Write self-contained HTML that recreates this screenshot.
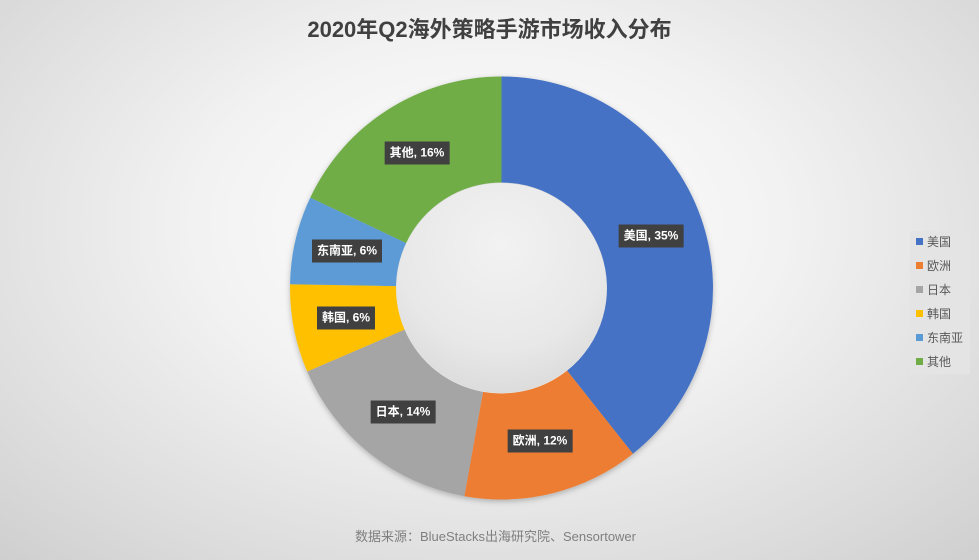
<!DOCTYPE html>
<html><head><meta charset="utf-8"><style>
html,body{margin:0;padding:0}
body{width:979px;height:560px;overflow:hidden;position:relative;font-family:"Liberation Sans","Noto Sans CJK SC",sans-serif;
background:radial-gradient(ellipse 75% 85% at 50% 40%,#ffffff 0%,#f2f2f2 40%,#dadada 80%,#cdcdcd 100%)}
.t{position:absolute;left:0;width:979px;top:12px;text-align:center;font-size:22px;font-weight:bold;color:#404040}
.f{position:absolute;left:6px;width:979px;top:526px;text-align:center;font-size:13px;color:#7f7f7f}
.lb{position:absolute;background:#404040;color:#fff;font-size:12px;font-weight:bold;height:23px;line-height:23px;padding:0 5px;transform:translate(-50%,-50%);white-space:nowrap}
.lg{position:absolute;left:910px;top:231px;width:60px;height:143px;background:#e4e4e4}
.li{position:absolute;left:6px;font-size:12px;color:#595959;height:14px;line-height:14px}
.li i{display:inline-block;width:7px;height:7px;margin-right:4px;vertical-align:1px}
</style></head><body>
<div class="t">2020年Q2海外策略手游市场收入分布</div>
<svg id="s" width="979" height="560" style="position:absolute;left:0;top:0">
<defs><filter id="sh" x="-20%" y="-20%" width="140%" height="140%"><feDropShadow dx="0" dy="2" stdDeviation="3" flood-color="#000" flood-opacity="0.25"/></filter>
<radialGradient id="hg" cx="50%" cy="30%" r="70%"><stop offset="0" stop-color="#f2f2f2"/><stop offset="0.7" stop-color="#e8e8e8"/><stop offset="1" stop-color="#dcdcdc"/></radialGradient></defs>
<g id="g" filter="url(#sh)"></g>
<circle cx="501.5" cy="288" r="105" fill="url(#hg)"/>
</svg>
<div class="lb" style="left:651px;top:236px">美国, 35%</div>
<div class="lb" style="left:540px;top:441px">欧洲, 12%</div>
<div class="lb" style="left:403px;top:412px">日本, 14%</div>
<div class="lb" style="left:346px;top:318px">韩国, 6%</div>
<div class="lb" style="left:347px;top:251px">东南亚, 6%</div>
<div class="lb" style="left:417px;top:153px">其他, 16%</div>
<div class="lg">
<div class="li" style="top:4px"><i style="background:#4472c4"></i>美国</div>
<div class="li" style="top:28px"><i style="background:#ed7d31"></i>欧洲</div>
<div class="li" style="top:52px"><i style="background:#a5a5a5"></i>日本</div>
<div class="li" style="top:76px"><i style="background:#ffc000"></i>韩国</div>
<div class="li" style="top:100px"><i style="background:#5b9bd5"></i>东南亚</div>
<div class="li" style="top:124px"><i style="background:#70ad47"></i>其他</div>
</div>
<div class="f">数据来源：BlueStacks出海研究院、Sensortower</div>
<script>
var cx=501.5,cy=288,R=211.5,r=105.5;
var v=[35,12,14,6,6,16],c=["#4472c4","#ed7d31","#a5a5a5","#ffc000","#5b9bd5","#70ad47"];
var tot=89,a=0,g=document.getElementById("g"),h="";
function p(rad,ang){return [cx+rad*Math.sin(ang),cy-rad*Math.cos(ang)];}
for(var i=0;i<6;i++){var a0=a/tot*2*Math.PI;a+=v[i];var a1=a/tot*2*Math.PI;
var L=(a1-a0)>Math.PI?1:0;var A=p(R,a0),B=p(R,a1),C=p(r,a1),D=p(r,a0);
h+='<path fill="'+c[i]+'" d="M'+A+' A'+R+','+R+' 0 '+L+' 1 '+B+' L'+C+' A'+r+','+r+' 0 '+L+' 0 '+D+'Z"/>';}
g.innerHTML=h;
</script>
</body></html>
